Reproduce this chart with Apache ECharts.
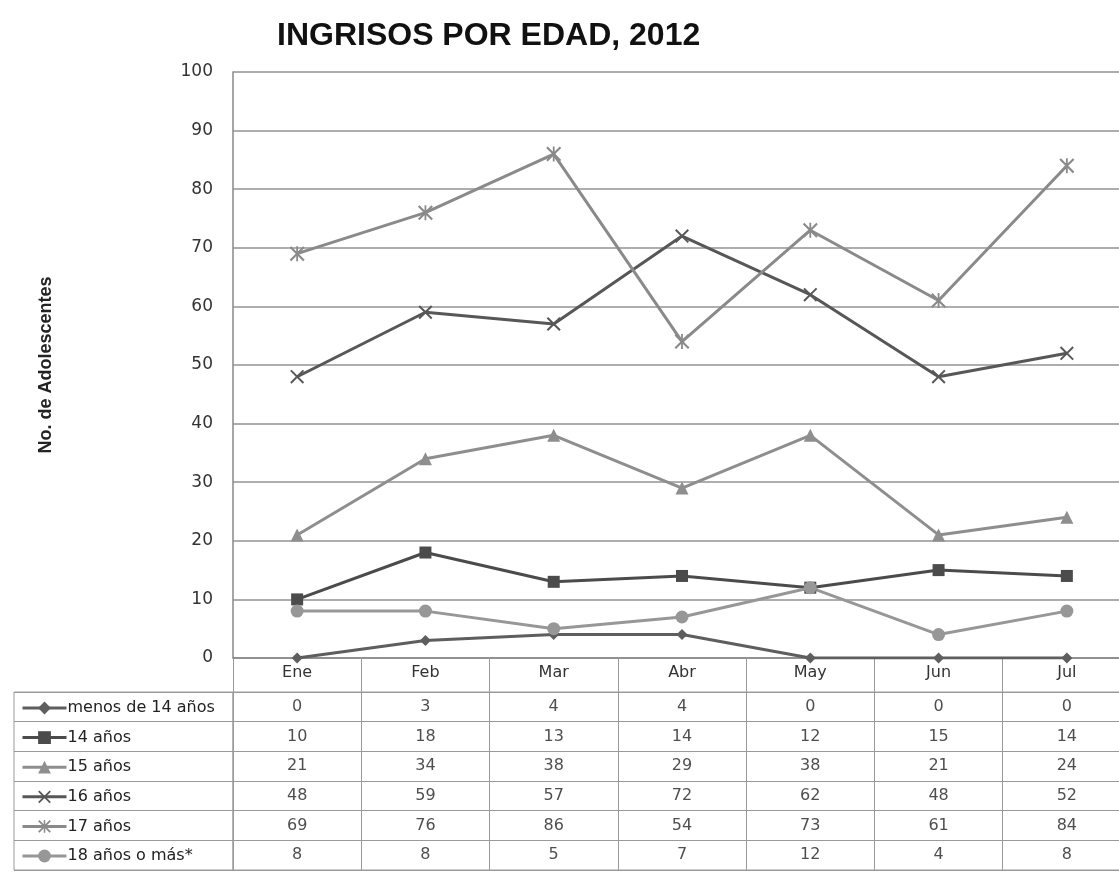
<!DOCTYPE html>
<html>
<head>
<meta charset="utf-8">
<script src="https://cdn.jsdelivr.net/npm/echarts@6/dist/echarts.min.js"></script>
<style>
  html, body { margin: 0; padding: 0; background: #fff; overflow: hidden; }
  #chart { width: 1131px; height: 880px; }
</style>
</head>
<body>
<div id="chart"></div>
<script>
// Ingresos por edad 2012 - lineas + tabla de datos debajo
const meses = ['Ene', 'Feb', 'Mar', 'Abr', 'May', 'Jun', 'Jul']
const nombres = ['menos de 14 años', '14 años', '15 años', '16 años', '17 años', '18 años o más*']
const menos14 = [0, 3, 4, 4, 0, 0, 0]
const anios14 = [10, 18, 13, 14, 12, 15, 14]
const anios15 = [21, 34, 38, 29, 38, 21, 24]
const anios16 = [48, 59, 57, 72, 62, 48, 52]
const anios17 = [69, 76, 86, 54, 73, 61, 84]
const anios18 = [8, 8, 5, 7, 12, 4, 8]
const yTicks = { min: 0, max: 100, step: 10 }

const valores = [menos14, anios14, anios15, anios16, anios17, anios18]

// marcadores tipo Excel
const cruz = 'path://M0,1L1,0L10,9L9,10Z M9,0L10,1L1,10L0,9Z'
const asterisco = 'path://M0,1L1,0L10,9L9,10Z M9,0L10,1L1,10L0,9Z M4.4,0L5.6,0L5.6,10L4.4,10Z'

const estilos = [
  { color: '#5e5e5e', symbol: 'diamond', size: 11 },
  { color: '#4b4b4b', symbol: 'rect', size: 12 },
  { color: '#8e8e8e', symbol: 'triangle', size: 13 },
  { color: '#575757', symbol: cruz, size: 14 },
  { color: '#8a8a8a', symbol: asterisco, size: 15 },
  { color: '#979797', symbol: 'circle', size: 13 }
]

const borde = '#9a9a9a'
const fuente = 'DejaVu Sans'

const lineas = valores.map((v, i) => ({
  name: nombres[i],
  type: 'line',
  xAxisIndex: 0,
  yAxisIndex: 0,
  data: v,
  symbol: estilos[i].symbol,
  symbolSize: estilos[i].size,
  symbolKeepAspect: true,
  lineStyle: { color: estilos[i].color, width: 3 },
  itemStyle: { color: estilos[i].color },
  emphasis: { disabled: true }
}))

// celdas de la tabla
const celdas = []
valores.forEach((v, r) => {
  v.forEach((n, c) => celdas.push([meses[c], nombres[r], n]))
})

const chart = echarts.init(document.getElementById('chart'))

const option = {
  animation: false,
  backgroundColor: '#fff',
  title: {
    text: 'INGRISOS POR EDAD, 2012',
    left: 272,
    top: 15,
    textStyle: { fontFamily: 'Liberation Sans', fontWeight: 'bold', fontSize: 32, color: '#111' }
  },
  legend: {
    data: nombres,
    orient: 'vertical',
    left: 16,
    top: 695,
    itemWidth: 44,
    itemHeight: 16,
    itemGap: 13.6,
    selectedMode: false,
    lineStyle: { width: 3 },
    textStyle: { fontFamily: fuente, fontSize: 16, color: '#222', padding: [0, 0, 0, -4] }
  },
  grid: [
    { left: 233, top: 72, right: 0, height: 586 },
    { left: 14, top: 692, width: 219, height: 178, show: true, borderColor: borde, borderWidth: 1 },
    { left: 233, top: 692, right: 0, height: 178, show: true, borderColor: borde, borderWidth: 1 }
  ],
  xAxis: [
    {
      gridIndex: 0,
      type: 'category',
      data: meses,
      axisLine: { lineStyle: { color: '#888', width: 1.5 } },
      axisTick: { show: true, length: 34, lineStyle: { color: borde } },
      axisLabel: { fontFamily: fuente, fontSize: 16, color: '#333', margin: 7 }
    },
    { gridIndex: 1, type: 'value', show: false },
    {
      gridIndex: 2,
      type: 'category',
      data: meses,
      axisLine: { show: false },
      axisTick: { show: false },
      axisLabel: { show: false },
      splitLine: { show: true, lineStyle: { color: borde } }
    }
  ],
  yAxis: [
    {
      gridIndex: 0,
      type: 'value',
      min: yTicks.min,
      max: yTicks.max,
      interval: yTicks.step,
      name: 'No. de Adolescentes',
      nameLocation: 'middle',
      nameRotate: 90,
      nameGap: 178,
      nameTextStyle: { fontFamily: 'Liberation Sans', fontWeight: 'bold', fontSize: 18, color: '#222' },
      axisLine: { show: true, lineStyle: { color: '#888', width: 1.5 } },
      axisTick: { show: false },
      axisLabel: { fontFamily: fuente, fontSize: 17, color: '#333', margin: 20 },
      splitLine: { lineStyle: { color: '#939393', width: 1.5 } }
    },
    {
      gridIndex: 1,
      type: 'category',
      data: nombres,
      inverse: true,
      axisLine: { show: false },
      axisTick: { show: false },
      axisLabel: { show: false },
      splitLine: { show: true, lineStyle: { color: borde } }
    },
    {
      gridIndex: 2,
      type: 'category',
      data: nombres,
      inverse: true,
      axisLine: { show: false },
      axisTick: { show: false },
      axisLabel: { show: false },
      splitLine: { show: true, lineStyle: { color: borde } }
    }
  ],
  series: [
    ...lineas,
    {
      name: 'tabla',
      type: 'scatter',
      xAxisIndex: 2,
      yAxisIndex: 2,
      data: celdas,
      symbolSize: 1,
      itemStyle: { color: 'rgba(0,0,0,0)' },
      silent: true,
      label: {
        show: true,
        position: 'inside',
        formatter: p => String(p.value[2]),
        fontFamily: fuente,
        fontSize: 16,
        color: '#222'
      }
    }
  ]
}

chart.setOption(option)
</script>
</body>
</html>
